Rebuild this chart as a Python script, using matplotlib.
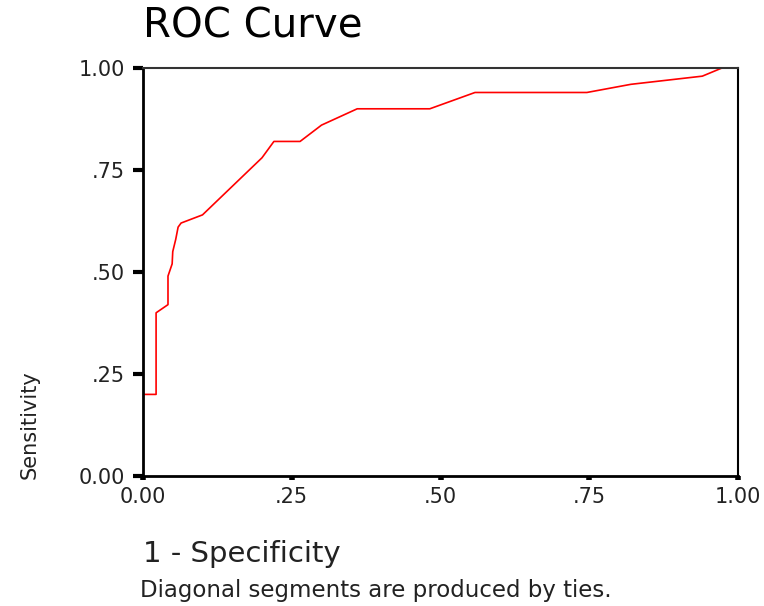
import matplotlib.pyplot as plt

# ROC curve points (1 - specificity, sensitivity)
fpr = [0.0, 0.0, 0.022, 0.022, 0.042, 0.042, 0.049, 0.050, 0.055, 0.059, 0.064,
       0.10, 0.15, 0.20, 0.22, 0.264, 0.30, 0.36, 0.482, 0.558, 0.746,
       0.82, 0.94, 0.973, 1.0]
tpr = [0.0, 0.20, 0.20, 0.40, 0.42, 0.49, 0.52, 0.55, 0.58, 0.61, 0.62,
       0.64, 0.71, 0.78, 0.82, 0.82, 0.86, 0.90, 0.90, 0.94, 0.94,
       0.96, 0.98, 1.0, 1.0]
tick_vals = [0.0, 0.25, 0.5, 0.75, 1.0]
tick_labels = ['0.00', '.25', '.50', '.75', '1.00']

plt.rcParams['font.family'] = ['DejaVu Sans']

fig = plt.figure(figsize=(7.64, 6.06), dpi=100)
ax = fig.add_axes([143/764, 1-476/606, (738-143)/764, (476-68)/606])

ax.plot(fpr, tpr, color='#ff0000', lw=1.2, zorder=2)

ax.set_xlim(0, 1)
ax.set_ylim(0, 1)
ax.set_xticks(tick_vals)
ax.set_xticklabels(tick_labels)
ax.set_yticks(tick_vals)
ax.set_yticklabels(tick_labels)
ax.tick_params(axis='y', direction='out', length=7, width=3, pad=6, labelsize=15, colors='black')
ax.tick_params(axis='x', direction='out', length=3, width=4, pad=5, labelsize=15, colors='black')
for lab in ax.get_xticklabels() + ax.get_yticklabels():
    lab.set_color('#222222')

ax.spines['left'].set_linewidth(2)
ax.spines['bottom'].set_linewidth(2)
ax.spines['right'].set_linewidth(1.5)
ax.spines['top'].set_linewidth(1.5)
ax.spines['top'].set_color('#333333')

fig.text(143/764, 1-38/606, 'ROC Curve', fontsize=29, ha='left', va='baseline')
fig.text(143/764, 1-562/606, '1 - Specificity', fontsize=21, ha='left', va='baseline', color='#222222')
fig.text(140/764, 1-597/606, 'Diagonal segments are produced by ties.', fontsize=16.5,
         ha='left', va='baseline', color='#222222')
fig.text(30/764, 1-425/606, 'Sensitivity', fontsize=15, rotation=90, ha='center', va='center',
         color='#222222')

fig.savefig('out.png', dpi=100)
plt.close()
